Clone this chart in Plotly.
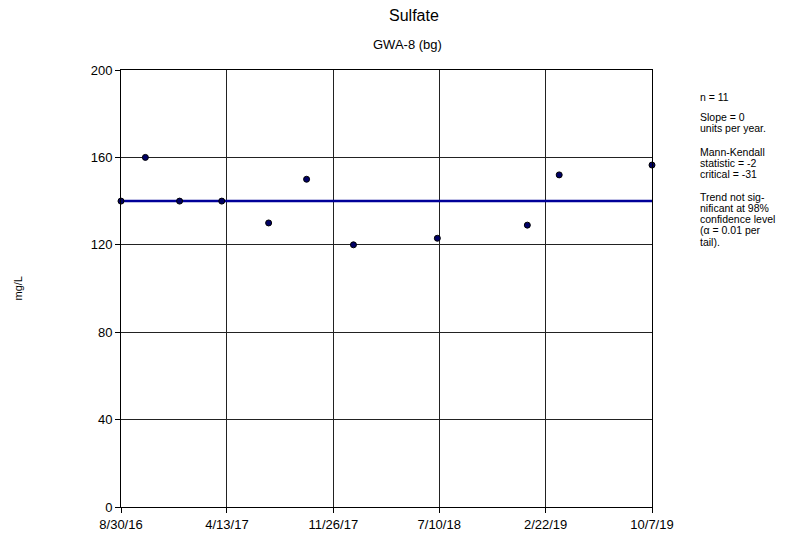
import plotly.graph_objects as go

dates = ["2016-08-30", "2016-10-21", "2017-01-02", "2017-04-02", "2017-07-11",
         "2017-09-30", "2018-01-08", "2018-07-06", "2019-01-14", "2019-03-23", "2019-10-07"]
values = [140, 160, 140, 140, 130, 150, 120, 123, 129, 152, 156.5]
trend_dates = ["2016-08-30", "2019-10-07"]
trend_values = [140, 140]
tick_dates = ["2016-08-30", "2017-04-13", "2017-11-26", "2018-07-10", "2019-02-22", "2019-10-07"]
tick_labels = ["8/30/16", "4/13/17", "11/26/17", "7/10/18", "2/22/19", "10/7/19"]
y_ticks = [0, 40, 80, 120, 160, 200]

side_text = [
    ("n = 11", 97),
    ("Slope = 0", 117), ("units per year.", 128),
    ("Mann-Kendall", 153), ("statistic = -2", 164), ("critical = -31", 175),
    ("Trend not sig-", 198), ("nificant at 98%", 209.2), ("confidence level", 220.4),
    ("(α = 0.01 per", 231.6), ("tail).", 242.8),
]

FONT = "Liberation Sans, Arial, sans-serif"
OFF = 8  # default page body margin

W, H = 791 - OFF, 544 - OFF
L = 121 - OFF
T = 70 - OFF
R = W - (652 - OFF)
B = H - (510 - OFF)
pw, ph = W - L - R, H - T - B


def px(x):
    return (x - OFF - L) / pw


def py(y):
    return (H - B - (y - OFF)) / ph


fig = go.Figure()
fig.add_trace(go.Scatter(x=trend_dates, y=trend_values, mode="lines",
                         line=dict(color="#000099", width=2.5), showlegend=False, hoverinfo="skip"))
fig.add_trace(go.Scatter(x=dates, y=values, mode="markers",
                         marker=dict(color="#000066", size=6, line=dict(color="#000000", width=1)),
                         showlegend=False, cliponaxis=False))

fig.update_layout(
    width=W, height=H,
    margin=dict(l=L, r=R, t=T, b=B),
    paper_bgcolor="white", plot_bgcolor="white",
    font=dict(family=FONT, color="#000000"),
    xaxis=dict(type="date", range=["2016-08-30", "2019-10-07"],
               tickvals=tick_dates, ticktext=tick_labels,
               showgrid=True, gridcolor="#222222", gridwidth=1,
               showline=True, linecolor="#000000", linewidth=1, mirror=True,
               ticks="outside", ticklen=5, tickcolor="#000000",
               tickfont=dict(size=13, family=FONT), zeroline=False),
    yaxis=dict(range=[0, 200], tickvals=y_ticks,
               showgrid=True, gridcolor="#222222", gridwidth=1,
               showline=True, linecolor="#000000", linewidth=1, mirror=True,
               ticks="outside", ticklen=5, tickcolor="#000000",
               tickfont=dict(size=13, family=FONT), zeroline=False),
)

fig.add_annotation(text="Sulfate", xref="paper", yref="paper", x=px(414), y=py(15),
                   xanchor="center", yanchor="middle", showarrow=False,
                   font=dict(size=16, family=FONT))
fig.add_annotation(text="GWA-8 (bg)", xref="paper", yref="paper", x=px(407), y=py(44),
                   xanchor="center", yanchor="middle", showarrow=False,
                   font=dict(size=13, family=FONT))

fig.add_annotation(text="mg/L", xref="paper", yref="paper", x=px(17), y=py(290),
                   xanchor="center", yanchor="middle", textangle=-90, showarrow=False,
                   font=dict(size=11, family=FONT))

for txt, yp in side_text:
    fig.add_annotation(text=txt, xref="paper", yref="paper", x=px(699),
                       y=py(yp), xanchor="left", yanchor="middle", borderpad=0,
                       showarrow=False, font=dict(size=10.5, family=FONT))

fig.write_html("out.html")
